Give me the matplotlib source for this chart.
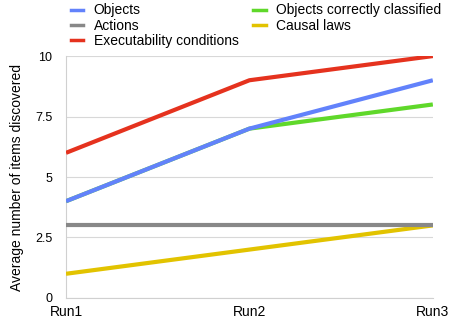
import matplotlib
matplotlib.use("Agg")
import matplotlib.pyplot as plt
from matplotlib.lines import Line2D

plt.rcParams['font.family'] = ['Liberation Sans', 'DejaVu Sans']

runs = ["Run1", "Run2", "Run3"]
objects = [4, 7, 9]
actions = [3, 3, 3]
exec_conditions = [6, 9, 10]
objects_classified = [4, 7, 8]
causal_laws = [1, 2, 3]
yticks = [0, 2.5, 5, 7.5, 10]
ytick_labels = ["0", "2.5", "5", "7.5", "10"]

c_blue = "#6282fb"
c_gray = "#888888"
c_red = "#e5321e"
c_green = "#5fd82a"
c_yellow = "#e2c300"

fig = plt.figure(figsize=(4.49, 3.26), dpi=100)
ax = fig.add_axes([0.147, 0.086, 0.817, 0.742])

x = list(range(len(runs)))
lw = 3.0
ax.plot(x, causal_laws, color=c_yellow, lw=lw, zorder=3, solid_capstyle='butt')
ax.plot(x, actions, color=c_gray, lw=lw, zorder=4, solid_capstyle='butt')
ax.plot(x, objects_classified, color=c_green, lw=lw, zorder=4, solid_capstyle='butt')
ax.plot(x, objects, color=c_blue, lw=lw, zorder=5, solid_capstyle='butt')
ax.plot(x, exec_conditions, color=c_red, lw=lw, zorder=5, solid_capstyle='butt')

ax.set_xlim(0, 2)
ax.set_ylim(0, 10)
ax.set_xticks(x)
ax.set_xticklabels(runs, fontsize=10)
ax.set_yticks(yticks)
ax.set_yticklabels(ytick_labels, fontsize=9)
ax.tick_params(length=0)
ax.tick_params(axis='y', pad=10)
ax.tick_params(axis='x', pad=5)
ax.grid(axis='y', color='#d8d8d8', lw=0.8)
ax.set_axisbelow(True)
for s in ['top', 'right']:
    ax.spines[s].set_visible(False)
for s in ['left', 'bottom']:
    ax.spines[s].set_color('#d0d0d0')
    ax.spines[s].set_linewidth(0.8)
ax.set_ylabel("Average number of items discovered", fontsize=10, labelpad=8)

handles = [Line2D([], [], color=c, lw=2.5) for c in [c_blue, c_gray, c_red, c_green, c_yellow]]
labels = ["Objects", "Actions", "Executability conditions",
          "Objects correctly classified", "Causal laws"]
fig.legend(handles, labels, loc='upper left', bbox_to_anchor=(0.13, 1.028), ncol=2,
           frameon=False, fontsize=10, handlelength=0.9, handletextpad=0.75,
           labelspacing=0.1, columnspacing=1.05)

fig.savefig("out.png", dpi=100)
